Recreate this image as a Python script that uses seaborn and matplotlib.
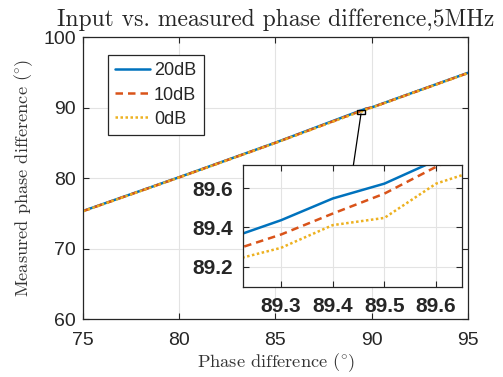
import pandas as pd
import matplotlib
matplotlib.use("Agg")
import matplotlib.pyplot as plt
import seaborn as sns
from matplotlib.patches import Rectangle, ConnectionPatch

# 入力位相差 (deg)
phase_in = [75, 80, 85, 89.2, 89.3, 89.4, 89.5, 89.6, 89.7, 90, 95]
# 測定位相差 (deg)
meas_20db = [75.32, 80.12, 85.02, 89.345, 89.437, 89.548, 89.624, 89.743, 89.84, 90.02, 94.92]
meas_10db = [75.30, 80.10, 85.00, 89.278, 89.364, 89.471, 89.573, 89.71, 89.82, 90.00, 94.90]
meas_0db = [75.28, 80.08, 84.98, 89.229, 89.296, 89.412, 89.449, 89.624, 89.71, 89.98, 94.88]
snr_labels = ["20dB", "10dB", "0dB"]

main_xticks = [75, 80, 85, 90, 95]
main_yticks = [60, 70, 80, 90, 100]
inset_xticks = [89.3, 89.4, 89.5, 89.6]
inset_yticks = [89.2, 89.4, 89.6]
inset_xlim = (89.2265, 89.65)
inset_ylim = (89.096, 89.719)

colors = ["#0072BD", "#D95319", "#EDB120"]

df = pd.DataFrame({
    "x": phase_in * 3,
    "y": meas_20db + meas_10db + meas_0db,
    "snr": [s for s in snr_labels for _ in phase_in],
})

sns.set_theme(style="whitegrid")
plt.rcParams["font.family"] = ["Liberation Sans", "DejaVu Sans"]
plt.rcParams["mathtext.fontset"] = "cm"

fig = plt.figure(figsize=(5.03, 3.77), dpi=100)
ax = fig.add_axes([0.165, 0.1538, 0.7654, 0.748])

dash_map = {"20dB": "", "10dB": (3, 2), "0dB": (1, 1)}

def draw(a, legend):
    sns.lineplot(data=df, x="x", y="y", hue="snr", style="snr",
                 hue_order=snr_labels, style_order=snr_labels,
                 palette=colors, dashes=dash_map, linewidth=1.8,
                 legend=legend, ax=a, sort=False)

def box(a):
    for s in a.spines.values():
        s.set_visible(True)
        s.set_color("#262626")
        s.set_linewidth(0.9)
    a.grid(True, color="#e3e3e3", linewidth=0.8)
    a.tick_params(direction="in", length=4, width=0.8, color="#262626",
                  top=True, right=True, bottom=True, left=True)

draw(ax, "full")
ax.set_xlim(75, 95)
ax.set_ylim(60, 100)
ax.set_xticks(main_xticks)
ax.set_yticks(main_yticks)
box(ax)
ax.tick_params(labelsize=14, labelcolor="#262626")
ax.tick_params(axis="x", pad=9)
ax.tick_params(axis="y", pad=5)
ax.set_xlabel(r"Phase difference $(\!^\circ\!)$", fontfamily="cmr10", fontsize=13.2,
              color="#333333", labelpad=2)
ax.set_ylabel(r"Measured phase difference $(\!^\circ\!)$", fontfamily="cmr10", fontsize=13.2,
              color="#333333", labelpad=6)
ax.set_title("Input vs. measured phase difference,5MHz", fontfamily="cmr10",
             fontsize=17, pad=8)

leg = ax.legend(loc="upper left", bbox_to_anchor=(0.065, 0.936), borderaxespad=0,
                fontsize=13, handlelength=1.9, labelspacing=0.4, handletextpad=0.25,
                borderpad=0.4, fancybox=False, framealpha=1, edgecolor="#262626")
leg.get_frame().set_linewidth(0.9)

# 拡大範囲の枠
ax.add_patch(Rectangle((inset_xlim[0], inset_ylim[0]),
                       inset_xlim[1] - inset_xlim[0], inset_ylim[1] - inset_ylim[0],
                       fill=False, edgecolor="black", linewidth=1.0, zorder=5))

# 拡大図
ins = fig.add_axes([0.4831, 0.2387, 0.4354, 0.3236])
draw(ins, False)
ins.set_xlim(*inset_xlim)
ins.set_ylim(*inset_ylim)
ins.set_xticks(inset_xticks)
ins.set_yticks(inset_yticks)
box(ins)
ins.set_xlabel("")
ins.set_ylabel("")
ins.tick_params(labelsize=15, pad=7)
for t in ins.get_xticklabels() + ins.get_yticklabels():
    t.set_fontweight("bold")

con = ConnectionPatch(xyA=(89.44, inset_ylim[0]), coordsA=ax.transData,
                      xyB=(89.44, inset_ylim[1]), coordsB=ins.transData,
                      color="black", linewidth=0.9)
fig.add_artist(con)

fig.savefig("out.png", dpi=100)
